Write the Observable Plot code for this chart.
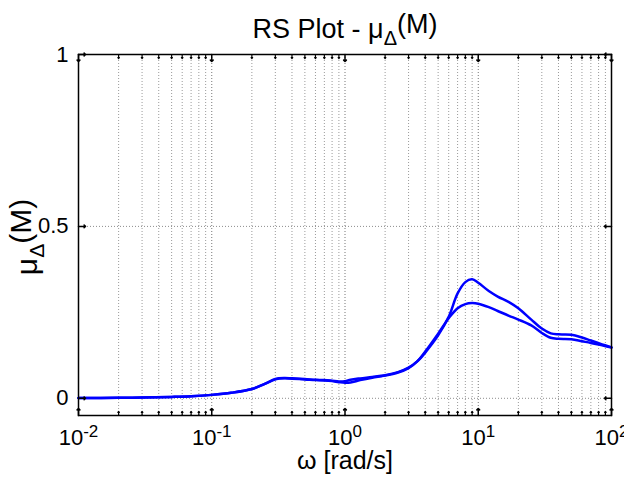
<!DOCTYPE html>
<html><head><meta charset="utf-8">
<script src="https://cdn.jsdelivr.net/npm/d3@7"></script>
<script src="https://cdn.jsdelivr.net/npm/@observablehq/plot@0.6"></script>
<style>
body{margin:0;background:#fff;}
#chart{width:624px;height:477px;}
</style></head><body><div id="chart"></div>
<script>
const freq = [0.01,0.02,0.03,0.05,0.07,0.1,0.14,0.2,0.25,0.3,0.35,0.4,0.5,0.6,0.7,0.8,0.9,1.0,1.1,1.3,1.6,2,2.5,3,3.5,4,5,6,7,8,9,10,12,14,17,20,25,30,35,40,50,60,70,85,100];
const muUpper = [0.001,0.0015,0.002,0.004,0.006,0.010,0.016,0.027,0.042,0.056,0.059,0.058,0.056,0.054,0.053,0.051,0.049,0.050,0.054,0.058,0.062,0.067,0.076,0.089,0.108,0.133,0.183,0.237,0.305,0.338,0.346,0.336,0.312,0.296,0.280,0.262,0.229,0.203,0.189,0.186,0.185,0.177,0.168,0.157,0.148];
const muLower = [0.001,0.0015,0.002,0.004,0.006,0.010,0.016,0.027,0.042,0.055,0.058,0.057,0.055,0.053,0.052,0.050,0.047,0.045,0.046,0.053,0.060,0.066,0.075,0.088,0.108,0.136,0.188,0.233,0.262,0.274,0.277,0.275,0.265,0.254,0.240,0.229,0.212,0.190,0.176,0.173,0.172,0.166,0.161,0.154,0.148];
const xMajorTicks = [0.01,0.1,1,10,100];
const xMinorTicks = [0.02,0.03,0.04,0.05,0.06,0.07,0.08,0.09,0.2,0.3,0.4,0.5,0.6,0.7,0.8,0.9,2,3,4,5,6,7,8,9,20,30,40,50,60,70,80,90];
const yTicks = [0,0.5,1];
const titleMain = "RS Plot - μ", titleSub = "Δ", titleEnd = "(M)";
const xLabel = "ω [rad/s]";

const rows = [];
freq.forEach((w,i)=>{ rows.push({w, mu: muUpper[i], bound:"upper"}); });
freq.forEach((w,i)=>{ rows.push({w, mu: muLower[i], bound:"lower"}); });

const FONT = "'Liberation Sans', Arial, Helvetica, sans-serif";
const chart = Plot.plot({
  width:624, height:477, marginLeft:78, marginRight:13, marginTop:54, marginBottom:62,
  style:{fontFamily:FONT, fontSize:"22px", color:"black", background:"white", overflow:"visible"},
  x:{type:"log", domain:[0.01,100]},
  y:{domain:[-0.05,1]},
  marks:[
    Plot.ruleX(xMinorTicks, {stroke:"#9a9a9a", strokeDasharray:"1,2", strokeWidth:1}),
    Plot.ruleX(xMajorTicks, {stroke:"#777", strokeDasharray:"1,2", strokeWidth:1}),
    Plot.ruleY([0,0.5], {stroke:"#8c8c8c", strokeDasharray:"1,2", strokeWidth:1}),
    Plot.line(rows, {x:"w", y:"mu", z:"bound", stroke:"#0000ff", strokeWidth:2.5, curve:"catmull-rom"}),
    Plot.vector(xMajorTicks, {x:d=>d, frameAnchor:"bottom", anchor:"start", rotate:0, length:7, stroke:"black", strokeWidth:1.5}),
    Plot.vector(xMinorTicks, {x:d=>d, frameAnchor:"bottom", anchor:"start", rotate:0, length:4, stroke:"black", strokeWidth:1.2}),
    Plot.vector(xMajorTicks, {x:d=>d, frameAnchor:"top", anchor:"start", rotate:180, length:7, stroke:"black", strokeWidth:1.5}),
    Plot.vector(xMinorTicks, {x:d=>d, frameAnchor:"top", anchor:"start", rotate:180, length:4, stroke:"black", strokeWidth:1.2}),
    Plot.vector(yTicks, {y:d=>d, frameAnchor:"left", anchor:"start", rotate:90, length:7, stroke:"black", strokeWidth:1.5}),
    Plot.vector(yTicks, {y:d=>d, frameAnchor:"right", anchor:"start", rotate:270, length:7, stroke:"black", strokeWidth:1.5}),
    Plot.axisX(xMajorTicks, {anchor:"bottom", tickSize:0, tickPadding:14, fontSize:22, tickFormat:d=>String(Math.round(Math.log10(d))), label:null}),
    Plot.axisY(yTicks, {anchor:"left", tickSize:0, tickPadding:10, fontSize:22, tickFormat:d=>String(d), label:null}),
    Plot.frame({stroke:"black", strokeWidth:1.5})
  ]
});
document.getElementById("chart").appendChild(chart);

const svg = d3.select(chart);
svg.selectAll('g[aria-label="x-axis tick label"] text').each(function(){
  const t = d3.select(this);
  const e = t.text();
  t.text("10");
  t.append("tspan").attr("dy","-0.5em").attr("font-size","17px").text(e);
});
// title
const tt = svg.append("text").attr("x",345).attr("y",38).attr("text-anchor","middle")
  .attr("font-family",FONT).attr("font-size","27px").attr("fill","black");
tt.append("tspan").text(titleMain);
tt.append("tspan").attr("dy","0.35em").attr("font-size","20px").text(titleSub);
tt.append("tspan").attr("dy","-0.45em").text(titleEnd);
// x label
svg.append("text").attr("x",345).attr("y",469).attr("text-anchor","middle")
  .attr("font-family",FONT).attr("font-size","25px").attr("fill","black").text(xLabel);
// y label
const yl = svg.append("text").attr("transform","translate(37,237) rotate(-90)").attr("text-anchor","middle")
  .attr("font-family",FONT).attr("font-size","30px").attr("fill","black");
yl.append("tspan").text("μ");
yl.append("tspan").attr("dy","0.35em").attr("font-size","21px").text("Δ");
yl.append("tspan").attr("dy","-0.45em").text("(M)");
</script></body></html>
